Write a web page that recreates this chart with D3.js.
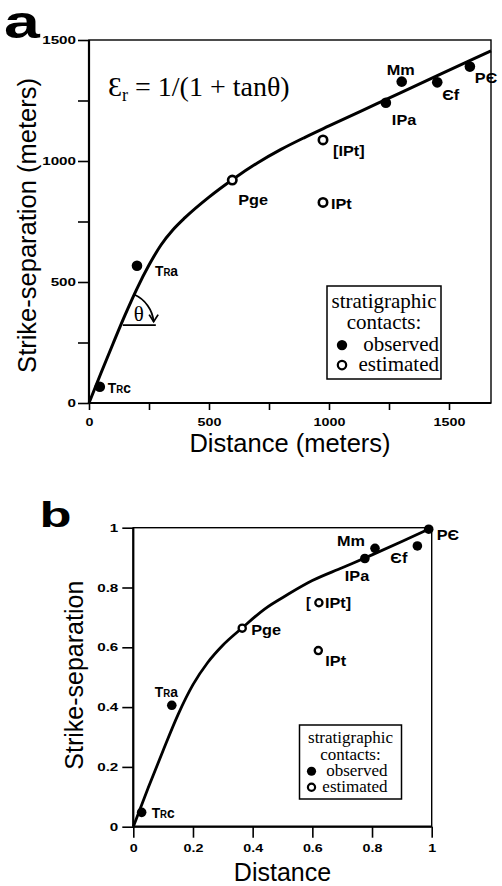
<!DOCTYPE html>
<html><head><meta charset="utf-8">
<script src="https://cdn.jsdelivr.net/npm/d3@7"></script>
<style>body{margin:0;background:#fff}svg{display:block}</style>
</head><body>
<script>
// ---------------- data ----------------
const unitLabels   = ["TRc", "TRa", "Pge", "[IPt]", "IPt", "IPa", "Mm", "Єf", "PЄ"];
const contactType  = ["observed", "observed", "estimated", "estimated", "estimated", "observed", "observed", "observed", "observed"];
// panel a (meters)
const distanceA    = [45, 200, 597, 975, 975, 1237, 1303, 1451, 1587];
const separationA  = [67, 567, 921, 1087, 829, 1241, 1328, 1325, 1390];
// panel b (normalized)
const distanceB    = [0.028, 0.129, 0.365, 0.622, 0.62, 0.776, 0.81, 0.952, 0.99];
const separationB  = [0.048, 0.406, 0.664, 0.749, 0.589, 0.897, 0.931, 0.939, 0.995];
// fitted curves
const curveDistA   = [0, 50, 100, 150, 200, 250, 300, 350, 400, 500, 600, 700, 800, 900, 1000, 1200, 1400, 1600, 1675];
const curveSepA    = [0, 124, 245, 363, 473, 570, 653, 716, 766, 851, 925, 991, 1048, 1098, 1145, 1237, 1329, 1421, 1455];
const curveDistB   = [0, 0.05, 0.1, 0.15, 0.2, 0.25, 0.3, 0.365, 0.44, 0.52, 0.6, 0.7, 0.8, 0.9, 1];
const curveSepB    = [0, 0.13, 0.255, 0.375, 0.475, 0.55, 0.607, 0.665, 0.728, 0.778, 0.823, 0.866, 0.909, 0.954, 1];
// ticks
const ticksA       = [0, 250, 500, 750, 1000, 1250, 1500];
const tickLabelsA  = ["0", "", "500", "", "1000", "", "1500"];
const ticksB       = [0, 0.2, 0.4, 0.6, 0.8, 1];
const tickLabelsB  = ["0", "0.2", "0.4", "0.6", "0.8", "1"];
// text
const legendTitle  = ["stratigraphic", "contacts:"];
const legendItems  = ["observed", "estimated"];
const titleXA = "Distance (meters)", titleYA = "Strike-separation (meters)";
const titleXB = "Distance", titleYB = "Strike-separation";
const thetaSepA = 322;   // separation at which the angle θ is drawn

// ---------------- layout (not data) ----------------
const labelOffsetA = [[8,6],[18,10],[6,25],[10,16],[8,7],[6,22],[-15,-7],[5,18],[5,16]];
const labelOffsetB = [[10,6],[-17,-8],[9,7],[6,5.5],[7,15],[-20,23],[-38,-2],[-27,17],[8,11]];

const W = 502, H = 886;
const svg = d3.select("body").append("svg").attr("width", W).attr("height", H);

const SANS = "'Liberation Sans', Arial, Helvetica, sans-serif";
const SERIF = "'Liberation Serif', 'Times New Roman', serif";

function stretch(sel, f) {
  sel.each(function () {
    const w = this.getComputedTextLength();
    if (w > 0) d3.select(this).attr("textLength", w * f).attr("lengthAdjust", "spacingAndGlyphs");
  });
}

function drawLabel(g, txt, x, y, size) {
  const t = g.append("text").attr("x", x).attr("y", y)
    .attr("font-family", SANS).attr("font-weight", "bold").attr("font-size", size);
  if (txt.startsWith("TR")) {
    t.append("tspan").text("T");
    t.append("tspan").attr("font-size", size * 0.7).text("R");
    t.append("tspan").text(txt.slice(2));
    stretch(t, 0.95);
  } else {
    t.text(txt);
    stretch(t, 1.12);
  }
  return t;
}

function panel(cfg) {
  const g = svg.append("g");
  const x = cfg.x, y = cfg.y;
  const [x0, x1] = x.range(), [y0, y1] = y.range();

  // y axis
  const ya = g.append("g").attr("transform", `translate(${x0},0)`)
    .call(d3.axisLeft(y).tickValues(cfg.ticksY).tickSize(cfg.tickLenY).tickPadding(cfg.padY)
      .tickFormat((d, i) => cfg.labelsY[i]));
  ya.select(".domain").remove();
  ya.selectAll("line").attr("stroke-width", 1.6);
  ya.selectAll("text").attr("font-family", SANS).attr("font-weight", "bold")
    .attr("font-size", 11).attr("fill", "#000");
  stretch(ya.selectAll("text"), 1.38);

  // x axis
  const xa = g.append("g").attr("transform", `translate(0,${y0})`)
    .call(d3.axisBottom(x).tickValues(cfg.ticksX).tickSize(cfg.tickLenX).tickPadding(cfg.padX)
      .tickFormat((d, i) => cfg.labelsX[i]));
  xa.select(".domain").remove();
  xa.selectAll("line").attr("stroke-width", 1.6);
  xa.selectAll("text").attr("font-family", SANS).attr("font-weight", "bold")
    .attr("font-size", 11).attr("fill", "#000");
  stretch(xa.selectAll("text"), 1.3);

  // frame
  g.append("rect").attr("x", x0).attr("y", y1).attr("width", x1 - x0).attr("height", y0 - y1)
    .attr("fill", "none").attr("stroke", "#000").attr("stroke-width", 1.4);
  g.append("line").attr("x1", x0).attr("x2", x0).attr("y1", y1).attr("y2", y0)
    .attr("stroke", "#000").attr("stroke-width", 2.2);
  g.append("line").attr("x1", x0).attr("x2", x1).attr("y1", y0).attr("y2", y0)
    .attr("stroke", "#000").attr("stroke-width", 2.2);

  // axis titles
  g.append("text").attr("x", (x0 + x1) / 2).attr("y", cfg.titleXBase)
    .attr("text-anchor", "middle").attr("font-family", SANS).attr("font-size", cfg.titleSize)
    .text(cfg.titleX);
  g.append("text").attr("transform", `translate(${cfg.titleYBase},${(y0 + y1) / 2 + cfg.titleYShift}) rotate(-90)`)
    .attr("text-anchor", "middle").attr("font-family", SANS).attr("font-size", cfg.titleSize)
    .text(cfg.titleY);

  // curve
  const line = d3.line().x(d => x(d[0])).y(d => y(d[1])).curve(d3.curveMonotoneX);
  const cpts = cfg.curveX.map((d, i) => [d, cfg.curveY[i]]);
  const path = g.append("path").attr("d", line(cpts)).attr("fill", "none")
    .attr("stroke", "#000").attr("stroke-width", cfg.curveW).attr("stroke-linejoin", "round");

  // points
  const pts = cfg.px.map((d, i) => ({ x: d, y: cfg.py[i], type: contactType[i], label: unitLabels[i], i }));
  pts.forEach(p => {
    const c = g.append("circle").attr("cx", x(p.x)).attr("cy", y(p.y));
    if (p.type === "observed") c.attr("r", cfg.rFill).attr("fill", "#000");
    else c.attr("r", cfg.rOpen).attr("fill", "#fff").attr("stroke", "#000").attr("stroke-width", cfg.openW);
    const off = cfg.offsets[p.i];
    let txt = p.label;
    if (cfg.splitBracket && txt.startsWith("[")) {
      g.append("text").attr("x", x(p.x) - 13).attr("y", y(p.y) + off[1])
        .attr("font-family", SANS).attr("font-weight", "bold").attr("font-size", cfg.labelSize).text("[");
      txt = txt.slice(1);
    }
    drawLabel(g, txt, x(p.x) + off[0], y(p.y) + off[1], cfg.labelSize);
  });

  // legend
  const L = cfg.legend;
  g.append("rect").attr("x", L.x).attr("y", L.y).attr("width", L.w).attr("height", L.h)
    .attr("fill", "#fff").attr("stroke", "#000").attr("stroke-width", 1.5);
  legendTitle.forEach((t, i) => {
    g.append("text").attr("x", L.x + L.w / 2).attr("y", L.y + L.base[i]).attr("text-anchor", "middle")
      .attr("font-family", SERIF).attr("font-size", L.fs).text(t);
  });
  legendItems.forEach((t, i) => {
    const by = L.y + L.base[i + 2];
    g.append("text").attr("x", L.x + L.w - L.pr).attr("y", by).attr("text-anchor", "end")
      .attr("font-family", SERIF).attr("font-size", L.fs).text(t);
    const c = g.append("circle").attr("cx", L.x + L.dx).attr("cy", by - L.fs * 0.28);
    if (t === "observed") c.attr("r", L.r).attr("fill", "#000");
    else c.attr("r", L.r - 1).attr("fill", "#fff").attr("stroke", "#000").attr("stroke-width", 2.2);
  });

  return { g, path };
}

// ---------------- panel a ----------------
const xA = d3.scaleLinear([0, 1675], [89, 491]);
const yA = d3.scaleLinear([0, 1500], [403, 40]);
const pa = panel({
  x: xA, y: yA, ticksY: ticksA, labelsY: tickLabelsA, ticksX: ticksA, labelsX: tickLabelsA,
  tickLenY: 11, padY: 2, tickLenX: 7, padX: 8,
  titleX: titleXA, titleY: titleYA, titleSize: 25.5, titleXBase: 452, titleYBase: 36, titleYShift: 4,
  curveX: curveDistA, curveY: curveSepA, curveW: 3,
  px: distanceA, py: separationA, rFill: 5.3, rOpen: 4.2, openW: 2.6,
  offsets: labelOffsetA, labelSize: 14.5, splitBracket: false,
  legend: { x: 327, y: 286, w: 114, h: 93, fs: 21, base: [22, 43, 65, 85], pr: 2, dx: 15, r: 5.2 }
});

// formula
const fA = svg.append("text").attr("x", 108).attr("y", 96)
  .attr("font-family", SERIF).attr("font-size", 28);
fA.append("tspan").text("Ɛ");
fA.append("tspan").attr("font-size", 18).attr("dy", 5).text("r");
fA.append("tspan").attr("dy", -5).text(" = 1/(1 + tanθ)");

// theta annotation
(function () {
  let vd = 0;
  for (let i = 1; i < curveSepA.length; i++) {
    if (curveSepA[i] >= thetaSepA) {
      const t = (thetaSepA - curveSepA[i - 1]) / (curveSepA[i] - curveSepA[i - 1]);
      vd = curveDistA[i - 1] + t * (curveDistA[i] - curveDistA[i - 1]);
      break;
    }
  }
  const vx = xA(vd), vy = yA(thetaSepA), r = 33;
  const node = pa.path.node(), L = node.getTotalLength();
  let sx = vx, sy = vy - r;
  for (let s = 0; s <= L; s += 0.5) {
    const p = node.getPointAtLength(s);
    if (p.y < vy && Math.hypot(p.x - vx, p.y - vy) >= r) { sx = p.x; sy = p.y; break; }
  }
  const endA = -6 * Math.PI / 180;
  const ex = vx + r * Math.cos(endA), ey = vy + r * Math.sin(endA);
  svg.append("path").attr("d", `M${sx},${sy} A${r},${r} 0 0 1 ${ex},${ey}`)
    .attr("fill", "none").attr("stroke", "#000").attr("stroke-width", 1.8);
  svg.append("path").attr("d", `M${ex - 4.5},${ey - 7} L${ex},${ey} L${ex + 4.5},${ey - 7}`)
    .attr("fill", "none").attr("stroke", "#000").attr("stroke-width", 1.8);
  svg.append("line").attr("x1", vx + 2).attr("x2", vx + r + 2).attr("y1", vy).attr("y2", vy)
    .attr("stroke", "#000").attr("stroke-width", 1.8);
  svg.append("text").attr("x", vx + 18).attr("y", vy - 4).attr("text-anchor", "middle")
    .attr("font-family", SERIF).attr("font-size", 21).text("θ");
})();

// ---------------- panel b ----------------
const xB = d3.scaleLinear([0, 1], [133.3, 431.7]);
const yB = d3.scaleLinear([0, 1], [826.7, 527.7]);
panel({
  x: xB, y: yB, ticksY: ticksB, labelsY: tickLabelsB, ticksX: ticksB, labelsX: tickLabelsB,
  tickLenY: 11, padY: 4, tickLenX: 11, padX: 7,
  titleX: titleXB, titleY: titleYB, titleSize: 25, titleXBase: 881, titleYBase: 83, titleYShift: -2,
  curveX: curveDistB, curveY: curveSepB, curveW: 2.8,
  px: distanceB, py: separationB, rFill: 4.8, rOpen: 3.6, openW: 2.3,
  offsets: labelOffsetB, labelSize: 14.5, splitBracket: true,
  legend: { x: 299.5, y: 725, w: 102, h: 74, fs: 17, base: [18, 35, 51, 67], pr: 14, dx: 12, r: 4.6 }
});

// panel letters
svg.append("text").attr("transform", "translate(4,38) scale(1.4,1)")
  .attr("font-family", SANS).attr("font-weight", "bold").attr("font-size", 46).text("a");
svg.append("text").attr("transform", "translate(39.5,526.7) scale(1.5,1)")
  .attr("font-family", SANS).attr("font-weight", "bold").attr("font-size", 35).text("b");
</script>
</body></html>
